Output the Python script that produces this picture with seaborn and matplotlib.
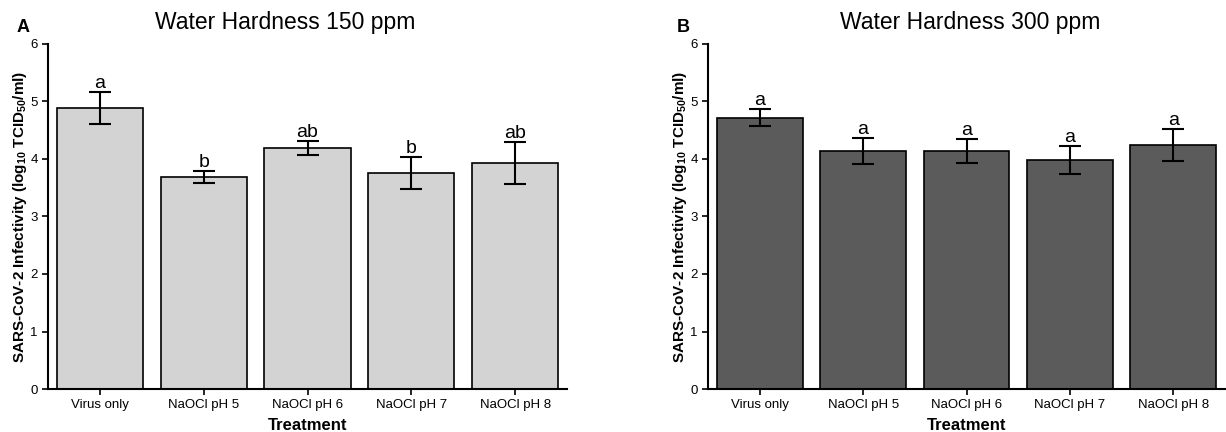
import matplotlib
matplotlib.use('Agg')
import matplotlib.pyplot as plt
import numpy as np
import seaborn as sns

treatments = ['Virus only', 'NaOCl pH 5', 'NaOCl pH 6', 'NaOCl pH 7', 'NaOCl pH 8']

# panel A: water hardness 150 ppm
mean_150 = [4.89, 3.69, 4.19, 3.76, 3.93]
err_150 = [0.28, 0.10, 0.12, 0.28, 0.37]
letters_150 = ['a', 'b', 'ab', 'b', 'ab']

# panel B: water hardness 300 ppm
mean_300 = [4.72, 4.14, 4.14, 3.98, 4.24]
err_300 = [0.15, 0.22, 0.21, 0.24, 0.28]
letters_300 = ['a', 'a', 'a', 'a', 'a']

sns.set_style('ticks')
plt.rcParams['font.family'] = ['Liberation Sans', 'DejaVu Sans']
plt.rcParams['text.color'] = 'black'
plt.rcParams['axes.labelcolor'] = 'black'
plt.rcParams['mathtext.fontset'] = 'custom'
plt.rcParams['mathtext.rm'] = 'Liberation Sans'
plt.rcParams['mathtext.bf'] = 'Liberation Sans:bold'

W, H = 1226, 432
fig = plt.figure(figsize=(W / 100, H / 100), dpi=100)
ax_a = fig.add_axes([48 / W, 1 - 389 / H, 519 / W, 345 / H])
ax_b = fig.add_axes([708 / W, 1 - 389 / H, 517 / W, 345 / H])

panels = [
    (ax_a, mean_150, err_150, letters_150, '#d3d3d3', 'Water Hardness 150 ppm', 'A', 285, 17),
    (ax_b, mean_300, err_300, letters_300, '#5b5b5b', 'Water Hardness 300 ppm', 'B', 970, 677),
]

ylab = r'SARS-CoV-2 Infectivity (log$_{\mathregular{10}}$ TCID$_{\mathbf{50}}$/ml)'

for ax, means, errs, letters, col, title, tag, tx, px in panels:
    sns.barplot(x=treatments, y=means, color=col, edgecolor='black',
                linewidth=1.2, width=0.83, saturation=1, ax=ax)
    pos = np.arange(len(treatments))
    ax.errorbar(pos, means, yerr=errs, fmt='none', ecolor='black',
                elinewidth=1.5, capsize=8, capthick=1.5)
    for p, m, e, lt in zip(pos, means, errs, letters):
        ax.annotate(lt, (p, m + e), xytext=(0, 3), textcoords='offset points',
                    ha='center', va='baseline', fontsize=14)
    ax.set_ylim(0, 6)
    ax.set_xlim(-0.5, 4.5)
    ax.set_yticks(range(7))
    ax.tick_params(axis='both', labelsize=9.5, length=4, width=1.2, colors='black')
    ax.set_xlabel('Treatment', fontsize=12, fontweight='bold', labelpad=5)
    ax.set_ylabel(ylab, fontsize=11, fontweight='bold', labelpad=1)
    sns.despine(ax=ax)
    for s in ['left', 'bottom']:
        ax.spines[s].set_linewidth(1.5)
        ax.spines[s].set_color('black')
    fig.text(tx / W, 1 - 23 / H, title, ha='center', va='center', fontsize=16.5)
    fig.text(px / W, 1 - 27 / H, tag, fontsize=13, fontweight='bold',
             ha='left', va='center')

fig.savefig('out.png', dpi=100)
